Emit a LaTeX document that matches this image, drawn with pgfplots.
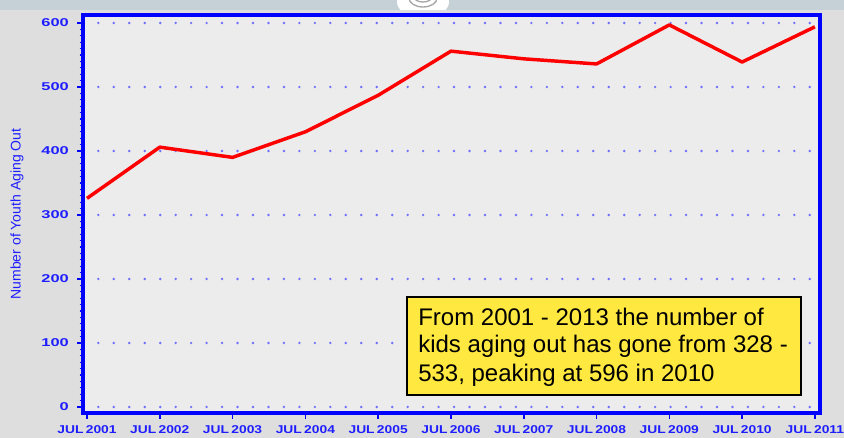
\documentclass[border=0pt]{standalone}
\usepackage{pgfplots}
\pgfplotsset{compat=1.18}
\usepackage{fontspec}
\setmainfont{Liberation Sans}

\definecolor{axblue}{RGB}{0,0,255}
\definecolor{tickblue}{RGB}{30,30,255}
\definecolor{dotblue}{RGB}{110,110,255}
\definecolor{plotbg}{RGB}{236,236,236}
\definecolor{outerbg}{RGB}{222,222,222}
\definecolor{topstrip}{RGB}{198,209,215}
\definecolor{boxyellow}{RGB}{255,232,64}

\begin{document}
\begin{tikzpicture}[x=0.75pt,y=0.75pt]
% page background and top strip
\fill[outerbg] (0,0) rectangle (844,438);
\fill[topstrip] (0,428) rectangle (844,438);
\begin{scope}
  \clip (0,428) rectangle (844,438);
  \fill[white] (423,436) ellipse (26 and 16);
  \draw[gray!70, line width=1pt] (423,440) ellipse (14 and 9);
  \draw[gray!70, line width=1pt] (423,441) ellipse (9 and 5);
\end{scope}
\useasboundingbox (0,0) rectangle (844,438);

\begin{axis}[
    at={(62.25pt,18.75pt)}, anchor=south west,
    scale only axis,
    width=552.75pt, height=298.5pt,
    xmin=2000.945, xmax=2011.07,
    ymin=-9.4, ymax=612.5,
    xtick={2001,2002,2003,2004,2005,2006,2007,2008,2009,2010,2011},
    xticklabels={JUL\,2001,JUL\,2002,JUL\,2003,JUL\,2004,JUL\,2005,JUL\,2006,JUL\,2007,JUL\,2008,JUL\,2009,JUL\,2010,JUL\,2011},
    ytick={0,100,200,300,400,500,600},
    minor y tick num=9,
    tick align=outside,
    tick pos=left,
    major tick length=4.5pt,
    minor tick length=2.5pt,
    every tick/.style={axblue, line width=1.2pt},
    minor tick style={axblue, line width=0.9pt},
    axis line style={axblue, line width=3pt},
    axis background/.style={fill=plotbg},
    ymajorgrids,
    grid style={dotblue, line width=2pt, line cap=round, dash pattern=on 0pt off 11.6pt, dash phase=-11.5pt},
    /pgf/number format/assume math mode=true,
    ticklabel style={text=tickblue, font=\bfseries\fontsize{8.5}{9}\selectfont},
    yticklabel style={xshift=-1pt, xscale=1.45},
    xticklabel style={yshift=-1.5pt, xscale=1.22},
    ylabel={Number of Youth Aging Out},
    ylabel style={at={(axis description cs:-0.0895,0.5)}, anchor=center, text=tickblue, font=\fontsize{10.5}{11}\selectfont},
]
\addplot[red, line width=2.6pt, line join=round] coordinates {
    (2001, 326) (2002, 406) (2003, 390) (2004, 430) (2005, 487)
    (2006, 556) (2007, 544) (2008, 536) (2009, 597) (2010, 539) (2011, 594)
};
\end{axis}

% annotation box
\draw[fill=boxyellow, line width=1.6pt] (407,43) rectangle (801,141);
\node[anchor=base west, inner sep=0, font=\fontsize{18}{21}\selectfont] at (418,112.3) {From 2001 - 2013 the number of};
\node[anchor=base west, inner sep=0, font=\fontsize{18}{21}\selectfont] at (418,85.3) {kids aging out has gone from 328 -};
\node[anchor=base west, inner sep=0, font=\fontsize{18}{21}\selectfont] at (418,56.3) {533, peaking at 596 in 2010};
\end{tikzpicture}
\end{document}
